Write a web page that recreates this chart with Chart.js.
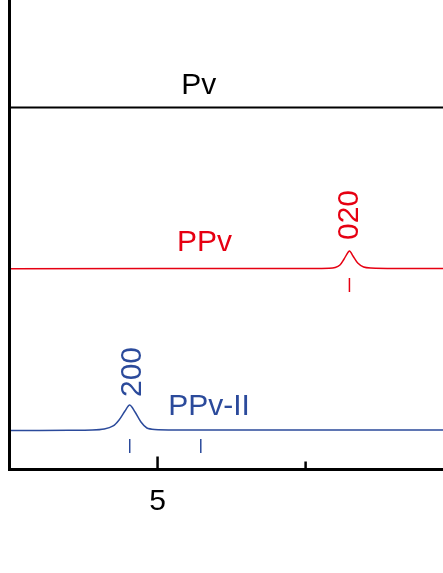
<!DOCTYPE html>
<html>
<head>
<meta charset="utf-8">
<script src="https://cdn.jsdelivr.net/npm/chart.js@4/dist/chart.umd.min.js"></script>
<style>
    html, body { margin: 0; padding: 0; background: #ffffff; overflow: hidden; }
    canvas { display: block; }
</style>
</head>
<body>
<canvas id="chart" width="443" height="573"></canvas>
<script>
// 2theta (deg) and offset intensities (a.u.)
const pvX = [2.5, 9.9];
const pvY = [77.1, 77.1];

const ppvX = [2.5, 7.5, 7.9, 8.0, 8.08, 8.15, 8.24, 8.3, 8.38, 8.48, 8.6, 9.0, 9.9];
const ppvY = [42.77, 42.81, 42.85, 43.02, 43.56, 44.84, 46.54, 45.47, 43.98, 43.13, 42.92, 42.81, 42.81];

const ppv2X = [2.5, 3.5, 3.9, 4.1, 4.25, 4.35, 4.45, 4.53, 4.62, 4.72, 4.82, 4.95, 5.3, 6.5, 9.9];
const ppv2Y = [8.31, 8.35, 8.41, 8.63, 9.27, 10.54, 12.46, 13.74, 12.25, 10.12, 8.84, 8.52, 8.41, 8.41, 8.41];

// reflection markers
const ppvRefX = [8.24];
const ppvRefY = [39.3];
const ppv2RefX = [4.53, 5.73];
const ppv2RefY = [5.01, 5.01];

const xTicksMajor = [5];
const xTicksMinor = [7.5];

const seriesNames = ['Pv', 'PPv', 'PPv-II'];
const seriesColors = ['#000000', '#e60012', '#2b4a9b'];
const nameX = [5.4, 5.33, 5.18];
const nameY = [79.98, 46.54, 11.61];

const peakLabels = ['020', '200'];
const peakColors = ['#e60012', '#2b4a9b'];
const peakX = [8.39, 4.72];
const peakY = [48.88, 15.44];

function toPoints(xs, ys) {
    return xs.map((x, i) => ({ x: x, y: ys[i] }));
}

const FONT = '30px "Liberation Sans", Arial, sans-serif';

const decorPlugin = {
    id: 'decor',
    afterDatasetsDraw(chart) {
        const { ctx, chartArea, scales } = chart;
        const xs = scales.x;
        const ys = scales.y;

        ctx.save();
        ctx.strokeStyle = '#000000';
        ctx.lineWidth = 3;
        ctx.lineCap = 'butt';
        ctx.beginPath();
        ctx.moveTo(chartArea.left, 0);
        ctx.lineTo(chartArea.left, chartArea.bottom + 1.5);
        ctx.moveTo(chartArea.left - 1.5, chartArea.bottom);
        ctx.lineTo(chartArea.right, chartArea.bottom);
        ctx.stroke();

        ctx.lineWidth = 2.5;
        xTicksMajor.forEach((v) => {
            const px = xs.getPixelForValue(v);
            ctx.beginPath();
            ctx.moveTo(px, chartArea.bottom);
            ctx.lineTo(px, chartArea.bottom - 13);
            ctx.stroke();
        });
        xTicksMinor.forEach((v) => {
            const px = xs.getPixelForValue(v);
            ctx.beginPath();
            ctx.moveTo(px, chartArea.bottom);
            ctx.lineTo(px, chartArea.bottom - 8);
            ctx.stroke();
        });

        ctx.font = FONT;
        ctx.fillStyle = '#000000';
        ctx.textAlign = 'center';
        ctx.textBaseline = 'alphabetic';
        xTicksMajor.forEach((v) => {
            ctx.fillText(String(v), xs.getPixelForValue(v), chartArea.bottom + 40);
        });

        ctx.textAlign = 'left';
        seriesNames.forEach((name, i) => {
            ctx.fillStyle = seriesColors[i];
            ctx.fillText(name, xs.getPixelForValue(nameX[i]), ys.getPixelForValue(nameY[i]));
        });

        peakLabels.forEach((label, i) => {
            ctx.save();
            ctx.translate(xs.getPixelForValue(peakX[i]), ys.getPixelForValue(peakY[i]));
            ctx.rotate(-Math.PI / 2);
            ctx.fillStyle = peakColors[i];
            ctx.fillText(label, 0, 0);
            ctx.restore();
        });
        ctx.restore();
    },
};

function lineSet(xs, ys, color, width) {
    return {
        type: 'line',
        data: toPoints(xs, ys),
        borderColor: color,
        borderWidth: width,
        pointRadius: 0,
        tension: 0.3,
        fill: false,
        clip: false,
    };
}

function refSet(xs, ys, color) {
    return {
        type: 'scatter',
        data: toPoints(xs, ys),
        pointStyle: 'line',
        rotation: 90,
        radius: 7,
        borderColor: color,
        borderWidth: 1.5,
        backgroundColor: color,
        clip: false,
    };
}

new Chart(document.getElementById('chart'), {
    type: 'line',
    data: {
        datasets: [
            lineSet(pvX, pvY, seriesColors[0], 2),
            lineSet(ppvX, ppvY, seriesColors[1], 1.5),
            lineSet(ppv2X, ppv2Y, seriesColors[2], 1.5),
            refSet(ppvRefX, ppvRefY, seriesColors[1]),
            refSet(ppv2RefX, ppv2RefY, seriesColors[2]),
        ],
    },
    options: {
        responsive: false,
        animation: false,
        layout: {
            autoPadding: false,
            padding: { left: 9.5, right: 0, top: 0, bottom: 103.5 },
        },
        plugins: {
            legend: { display: false },
            tooltip: { enabled: false },
        },
        scales: {
            x: { type: 'linear', min: 2.5, max: 9.82, display: false },
            y: { type: 'linear', min: 0, max: 100, display: false },
        },
    },
    plugins: [decorPlugin],
});
</script>
</body>
</html>
